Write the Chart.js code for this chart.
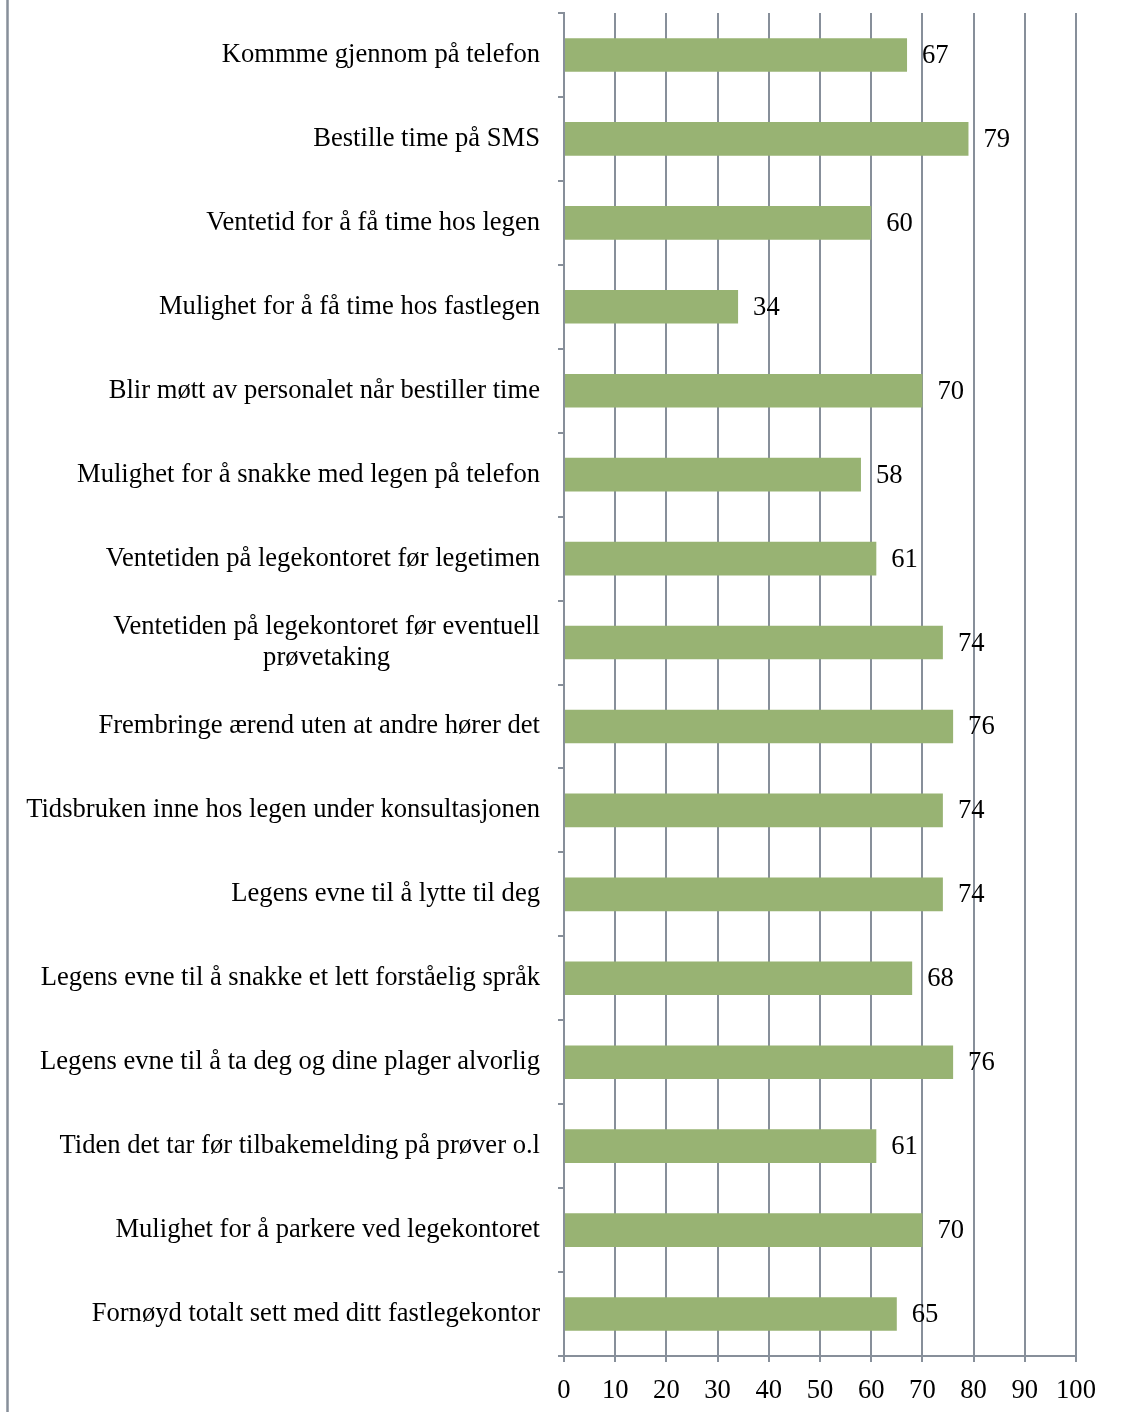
<!DOCTYPE html>
<html lang="no">
<head>
<meta charset="UTF-8">
<title>Fastlegekontor</title>
<script src="https://cdn.jsdelivr.net/npm/chart.js"></script>
<style>
  html, body { margin: 0; padding: 0; background: #fff; }
  #wrap { width: 1121px; height: 1412px; }
</style>
</head>
<body>
<div id="wrap"><canvas id="barChart" width="1121" height="1412"></canvas></div>
<script>
// chart data
var categories = [
    'Kommme gjennom på telefon',
    'Bestille time på SMS',
    'Ventetid for å få time hos legen',
    'Mulighet for å få time hos fastlegen',
    'Blir møtt av personalet når bestiller time',
    'Mulighet for å snakke med legen på telefon',
    'Ventetiden på legekontoret før legetimen',
    ['Ventetiden på legekontoret før eventuell', 'prøvetaking'],
    'Frembringe ærend uten at andre hører det ',
    'Tidsbruken inne hos legen under konsultasjonen',
    'Legens evne til å lytte til deg',
    'Legens evne til å snakke et lett forståelig språk',
    'Legens evne til å ta deg og dine plager alvorlig',
    'Tiden det tar før tilbakemelding på prøver o.l',
    'Mulighet for å parkere ved legekontoret',
    'Fornøyd totalt sett med ditt fastlegekontor'
];
var scores = [67, 79, 60, 34, 70, 58, 61, 74, 76, 74, 74, 68, 76, 61, 70, 65];
var xTicks = [0, 10, 20, 30, 40, 50, 60, 70, 80, 90, 100];

var gridColor = '#878f9a';
var fontFamily = '"Liberation Serif", "Times New Roman", serif';
var fontSize = 26.6;

// left frame line
var framePlugin = {
    id: 'frameLine',
    beforeDraw: function (chart) {
        var c = chart.ctx;
        c.save();
        c.fillStyle = '#fff';
        c.fillRect(0, 0, chart.width, chart.height);
        c.strokeStyle = gridColor;
        c.lineWidth = 2.5;
        c.beginPath();
        c.moveTo(7.5, 0);
        c.lineTo(7.5, chart.height);
        c.stroke();
        c.restore();
    }
};

// category labels: right aligned block, lines centred inside it
var catLabelPlugin = {
    id: 'catLabels',
    afterDraw: function (chart) {
        var c = chart.ctx;
        var yScale = chart.scales.y;
        var rightEdge = yScale.right - 24;
        c.save();
        c.font = fontSize + 'px ' + fontFamily;
        c.fillStyle = '#000';
        c.textBaseline = 'middle';
        c.textAlign = 'center';
        categories.forEach(function (label, i) {
            var lines = Array.isArray(label) ? label : [label];
            var maxW = 0;
            lines.forEach(function (l) { maxW = Math.max(maxW, c.measureText(l.trimEnd()).width); });
            var cx = rightEdge - maxW / 2;
            var y = yScale.getPixelForValue(i);
            var lh = 31;
            var y0 = y - (lines.length - 1) * lh / 2;
            lines.forEach(function (l, k) {
                c.fillText(l.trimEnd(), cx, y0 + k * lh);
            });
        });
        c.restore();
    }
};

// value labels right of bars
var valueLabelPlugin = {
    id: 'valueLabels',
    afterDatasetsDraw: function (chart) {
        var c = chart.ctx;
        var meta = chart.getDatasetMeta(0);
        c.save();
        c.font = fontSize + 'px ' + fontFamily;
        c.fillStyle = '#000';
        c.textAlign = 'left';
        c.textBaseline = 'middle';
        meta.data.forEach(function (bar, i) {
            c.fillText(String(scores[i]), bar.x + 15, bar.y + 1);
        });
        c.restore();
    }
};

var ctx = document.getElementById('barChart').getContext('2d');
var barChart = new Chart(ctx, {
    type: 'bar',
    data: {
        labels: categories,
        datasets: [{
            data: scores,
            backgroundColor: '#98b373',
            borderWidth: 0,
            barPercentage: 0.8,
            categoryPercentage: 0.5
        }]
    },
    options: {
        indexAxis: 'y',
        responsive: false,
        animation: false,
        layout: { padding: { top: 13, right: 45, left: 0, bottom: 0 } },
        plugins: {
            legend: { display: false },
            tooltip: { enabled: false }
        },
        scales: {
            x: {
                min: 0,
                max: 100,
                afterBuildTicks: function (scale) {
                    scale.ticks = xTicks.map(function (v) { return { value: v }; });
                },
                afterFit: function (scale) { scale.height = 56; },
                grid: {
                    color: gridColor,
                    lineWidth: 2,
                    tickLength: 6,
                    drawTicks: true
                },
                border: { display: true, color: gridColor, width: 2 },
                ticks: {
                    color: '#000',
                    padding: 13,
                    maxRotation: 0,
                    font: { family: fontFamily, size: fontSize }
                }
            },
            y: {
                afterFit: function (scale) {
                    scale.width = 564;
                    scale.paddingTop = 0;
                    scale.paddingBottom = 0;
                },
                grid: {
                    offset: true,
                    drawOnChartArea: false,
                    drawTicks: true,
                    tickLength: 6,
                    color: gridColor,
                    lineWidth: 2
                },
                border: { display: true, color: gridColor, width: 2 },
                ticks: {
                    color: 'rgba(0,0,0,0)',
                    font: { family: fontFamily, size: fontSize }
                }
            }
        }
    },
    plugins: [framePlugin, catLabelPlugin, valueLabelPlugin]
});
</script>
</body>
</html>
